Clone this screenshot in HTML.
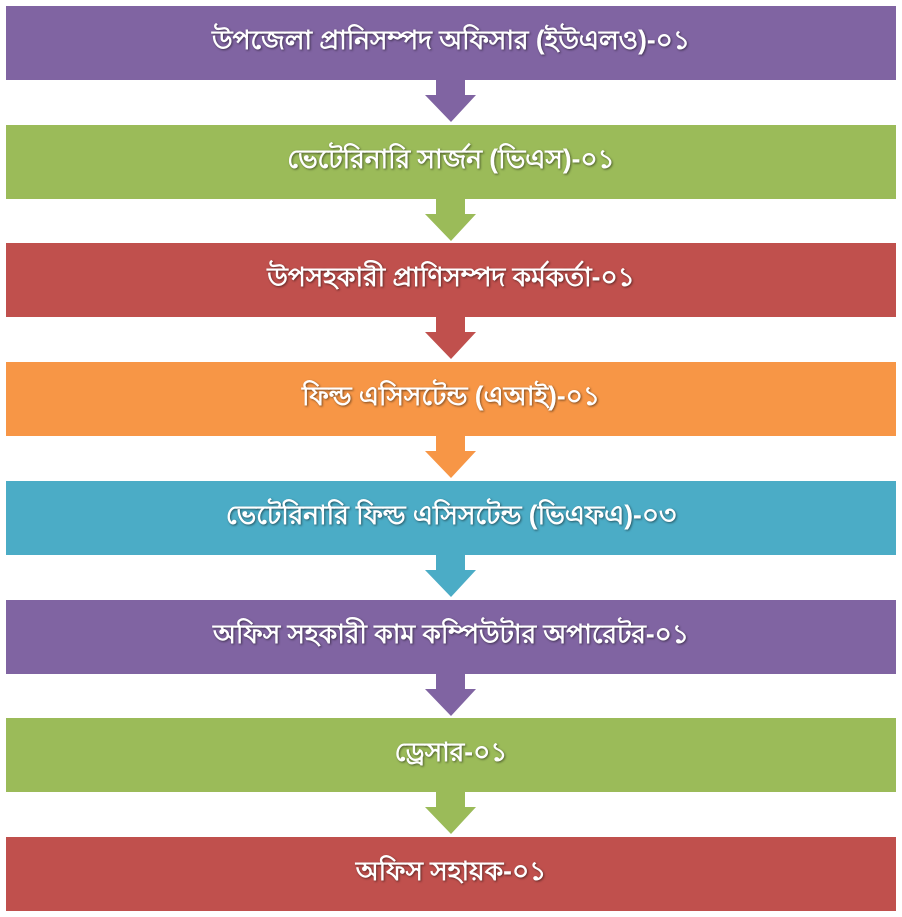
<!DOCTYPE html>
<html><head><meta charset="utf-8"><style>
body{margin:0;width:902px;height:917px;background:#fff;position:relative;overflow:hidden;font-family:"Liberation Sans","Noto Sans CJK SC",sans-serif}
.b{position:absolute;left:6px;width:890px;height:74px;color:#fff;font-size:26.4px;font-weight:bold;display:flex;align-items:center;justify-content:center;text-shadow:1px 1px 2px rgba(0,0,0,.5)}
svg{position:absolute;left:0;top:0}
</style></head><body>
<svg width="902" height="917">
<g>
<polygon points="436,80 465,80 465,95 476,95 451,122 425,95 436,95" fill="#8064A2"/>
<polygon points="436,199 465,199 465,214 476,214 451,241 425,214 436,214" fill="#9BBB59"/>
<polygon points="436,317 465,317 465,332 476,332 451,359 425,332 436,332" fill="#C0504D"/>
<polygon points="436,436 465,436 465,451 476,451 451,478 425,451 436,451" fill="#F79646"/>
<polygon points="436,555 465,555 465,570 476,570 451,597 425,570 436,570" fill="#4BACC6"/>
<polygon points="436,674 465,674 465,689 476,689 451,716 425,689 436,689" fill="#8064A2"/>
<polygon points="436,792 465,792 465,807 476,807 451,834 425,807 436,807" fill="#9BBB59"/>
</g></svg>
<div class="b" style="top:6px;background:#8064A2">উপজেলা প্রানিসম্পদ অফিসার (ইউএলও)-০১</div>
<div class="b" style="top:125px;background:#9BBB59">ভেটেরিনারি সার্জন (ভিএস)-০১</div>
<div class="b" style="top:243px;background:#C0504D">উপসহকারী প্রাণিসম্পদ কর্মকর্তা-০১</div>
<div class="b" style="top:362px;background:#F79646">ফিল্ড এসিসটেন্ড (এআই)-০১</div>
<div class="b" style="top:481px;background:#4BACC6">ভেটেরিনারি ফিল্ড এসিসটেন্ড (ভিএফএ)-০৩</div>
<div class="b" style="top:600px;background:#8064A2">অফিস সহকারী কাম কম্পিউটার অপারেটর-০১</div>
<div class="b" style="top:718px;background:#9BBB59">ড্রেসার-০১</div>
<div class="b" style="top:837px;background:#C0504D">অফিস সহায়ক-০১</div>
</body></html>
